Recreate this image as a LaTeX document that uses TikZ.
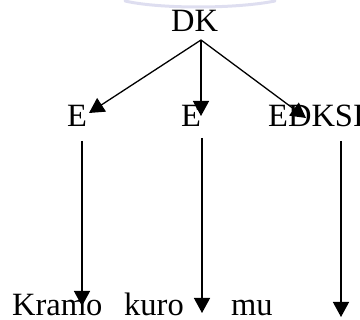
\documentclass[tikz,border=0pt]{standalone}
\usepackage{fontspec}
\setmainfont{Liberation Serif}
\usetikzlibrary{arrows.meta}
\begin{document}
\begin{tikzpicture}[x=1pt,y=-1pt,
  lbl/.style={anchor=base west,inner sep=0pt,text depth=0pt,font=\fontsize{32.5}{38}\selectfont},
  conn/.style={line width=1.3pt,-{Triangle[length=15pt,width=16pt]}}]
\useasboundingbox (0,0) rectangle (360,320);
% faint watermark arc
\draw[line width=3pt,color={rgb,255:red,222;green,222;blue,240},line cap=round]
  (125,1) .. controls (160,9) and (235,9) .. (275,1);
% nodes
\node[lbl] (dk) at (171,32) {DK};
\node[lbl] (e1) at (67,127) {E};
\node[lbl] (e2) at (181,127) {E};
\node[lbl] (edksi) at (268,127) {EDKSI};
\node[lbl] (kramo) at (12,316) {Kramo};
\node[lbl] (kuro) at (124,316) {kuro};
\node[lbl] (mu) at (231,316) {mu};
% connector ends
\coordinate (dko) at (201,40);
\coordinate (e1i) at (89,113);
\coordinate (e2i) at (201,116);
\coordinate (edi) at (306,118);
\coordinate (e1o) at (82,141);
\coordinate (e2o) at (202,138);
\coordinate (edo) at (341,141);
\coordinate (kri) at (82,306);
\coordinate (kui) at (202,313);
\coordinate (mui) at (341,317);
\draw[conn] (dko) -- (e1i);
\draw[conn] (dko) -- (e2i);
\draw[conn] (dko) -- (edi);
\draw[conn] (e1o) -- (kri);
\draw[conn] (e2o) -- (kui);
\draw[conn] (edo) -- (mui);
\end{tikzpicture}
\end{document}
